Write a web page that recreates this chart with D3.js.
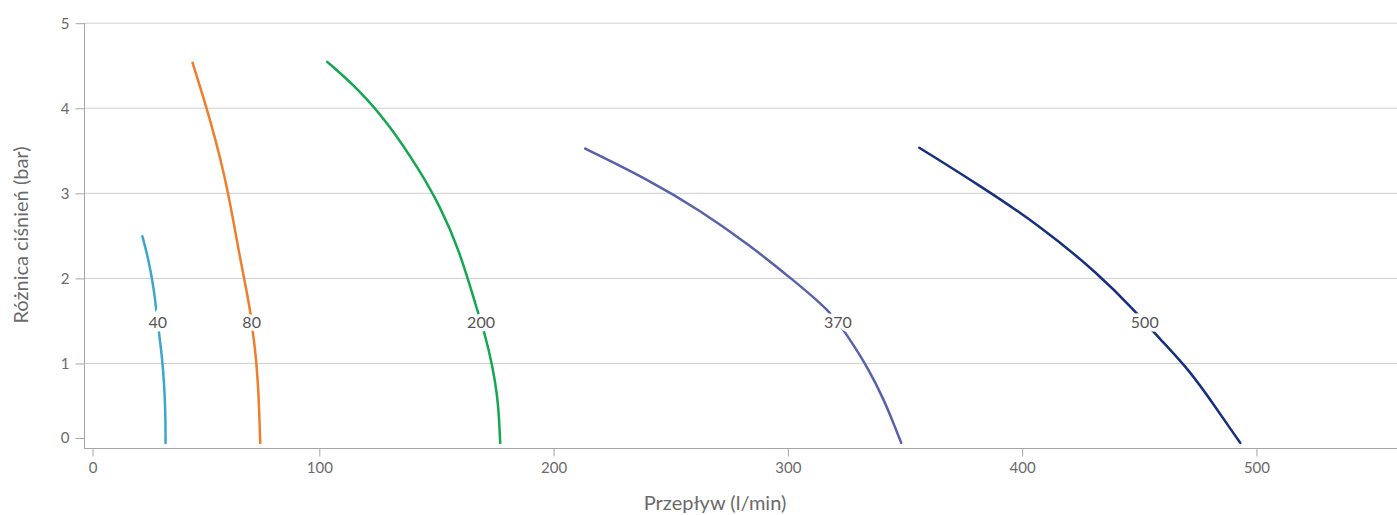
<!DOCTYPE html>
<html>
<head>
<meta charset="utf-8">
<script src="https://cdn.jsdelivr.net/npm/d3@7"></script>
<style>
    body { margin: 0; background: #fff; }
    svg { display: block; font-family: Lato, "Open Sans", sans-serif; }
    .axis text { fill: #6b6b6b; font-size: 15px; font-family: Lato, "Open Sans", sans-serif; }
    .axis path, .axis line { stroke: #a6a6a6; }
    .grid line { stroke: #cfcfcf; }
    .curve { fill: none; stroke-width: 2.5; stroke-linejoin: round; stroke-linecap: round; }
    .label { fill: #555; font-size: 16px; stroke: #fff; stroke-width: 7; paint-order: stroke; }
    .title { fill: #6b6b6b; font-size: 20px; }
</style>
</head>
<body>
<svg id="chart" width="1397" height="515"></svg>
<script>
/*
** Data
*/
var seriesNames = ["40", "80", "200", "370", "500"];
var seriesColors = ["#3ba7cb", "#f07d2b", "#13a752", "#5861ab", "#172f7e"];

var flow40  = [24.5, 26.6, 28.3, 29.6, 30.4, 31.7, 33.0, 33.8, 34.3, 34.4];
var dp40    = [2.49, 2.27, 2.04, 1.82, 1.62, 1.33, 1.04, 0.74, 0.45, 0.06];
var flow80  = [45.9, 50.9, 55.2, 59.5, 62.9, 65.9, 68.9, 70.6, 71.8, 73.1, 74.0, 74.4, 74.8];
var dp80    = [4.53, 4.09, 3.68, 3.21, 2.74, 2.27, 1.86, 1.60, 1.33, 1.04, 0.68, 0.39, 0.06];
var flow200 = [103.4, 117.1, 129.9, 142.7, 151.2, 159.8, 167.4, 170.8, 173.8, 176.0, 176.8, 177.2];
var dp200   = [4.54, 4.21, 3.80, 3.27, 2.86, 2.33, 1.62, 1.33, 0.98, 0.62, 0.33, 0.06];
var flow370 = [213.5, 240.8, 262.2, 283.5, 302.0, 317.7, 325.3, 334.7, 341.1, 345.4, 348.4];
var dp370   = [3.52, 3.15, 2.80, 2.39, 1.98, 1.62, 1.33, 0.92, 0.56, 0.27, 0.06];
var flow500 = [356.1, 381.7, 407.3, 432.9, 447.8, 458.5, 471.3, 483.3, 489.3, 493.1];
var dp500   = [3.53, 3.09, 2.62, 2.04, 1.62, 1.29, 0.92, 0.45, 0.21, 0.06];

var xTicks = [0, 100, 200, 300, 400, 500];
var yTicks = [0, 1, 2, 3, 4, 5];
var labelLevel = 1.48;   // bar, where the series names sit on their curves

var flows = [flow40, flow80, flow200, flow370, flow500];
var dps   = [dp40, dp80, dp200, dp370, dp500];

/*
** Layout
*/
var svg = d3.select("#chart")
  , margin = { top: 22.7, right: 0, bottom: 67, left: 85 }
  , width = +svg.attr("width")
  , height = +svg.attr("height")
  , x = d3.scaleLinear().domain([0, 560]).range([margin.left, width - margin.right])
  , y = d3.scaleLinear().domain([0, 5]).range([height - margin.bottom, margin.top])
;

// grid lines (no line at 0)
svg.append("g")
    .attr("class", "grid")
  .selectAll("line")
    .data(yTicks.filter(function(d) { return d > 0; }))
  .enter().append("line")
    .attr("x1", margin.left)
    .attr("x2", width)
    .attr("y1", function(d) { return y(d) + 0.5; })
    .attr("y2", function(d) { return y(d) + 0.5; })
;

// y axis
var yAxis = svg.append("g")
    .attr("class", "axis")
    .attr("transform", "translate(" + (margin.left - 0.5) + ",0.5)")
    .call(d3.axisLeft(y).tickValues(yTicks).tickFormat(d3.format("d"))
        .tickSize(9).tickPadding(6).tickSizeOuter(0))
;
yAxis.select(".domain").attr("d", "M0," + y(5) + "V" + y(0));
yAxis.selectAll(".tick")
    .filter(function(d) { return d === 0; })
    .attr("transform", "translate(0," + (y(0) - 10) + ")")
;

// x axis
var xAxis = svg.append("g")
    .attr("class", "axis")
    .attr("transform", "translate(0," + (y(0) + 0.5) + ")")
    .call(d3.axisBottom(x).tickValues(xTicks).tickFormat(d3.format("d"))
        .tickSize(8).tickPadding(6).tickSizeOuter(0))
;
xAxis.select(".domain").attr("d", "M" + (margin.left - 1) + ",0H" + width);
xAxis.selectAll(".tick")
    .filter(function(d) { return d === 0; })
    .attr("transform", "translate(" + (x(0) + 8) + ",0)")
;

// curves
var line = d3.line()
    .x(function(d) { return x(d[0]); })
    .y(function(d) { return y(d[1]); })
    .curve(d3.curveBasis)
;

var series = seriesNames.map(function(name, i) {
    return {
        name: name,
        color: seriesColors[i],
        points: flows[i].map(function(f, j) { return [f, dps[i][j]]; })
    };
});

svg.append("g")
  .selectAll("path")
    .data(series)
  .enter().append("path")
    .attr("class", "curve")
    .attr("d", function(s) { return line(s.points); })
    .style("stroke", function(s) { return s.color; })
;

// series labels, placed where each curve crosses labelLevel
function flowAt(points, level) {
    for (var i = 1; i < points.length; i++) {
        var a = points[i - 1], b = points[i];
        if (a[1] >= level && b[1] <= level) {
            var t = (a[1] - level) / (a[1] - b[1]);
            return a[0] + t * (b[0] - a[0]);
        }
    }
    return points[0][0];
}

svg.append("g")
  .selectAll("text")
    .data(series)
  .enter().append("text")
    .attr("class", "label")
    .attr("x", function(s) { return x(flowAt(s.points, labelLevel)); })
    .attr("y", y(labelLevel))
    .attr("dy", "0.35em")
    .attr("text-anchor", "middle")
    .text(function(s) { return s.name; })
;

// axis titles
svg.append("text")
    .attr("class", "title")
    .attr("x", 715)
    .attr("y", 510)
    .attr("text-anchor", "middle")
    .text("Przepływ (l/min)")
;
svg.append("text")
    .attr("class", "title")
    .attr("transform", "translate(28," + 235 + ") rotate(-90)")
    .attr("text-anchor", "middle")
    .text("Różnica ciśnień (bar)")
;
</script>
</body>
</html>
